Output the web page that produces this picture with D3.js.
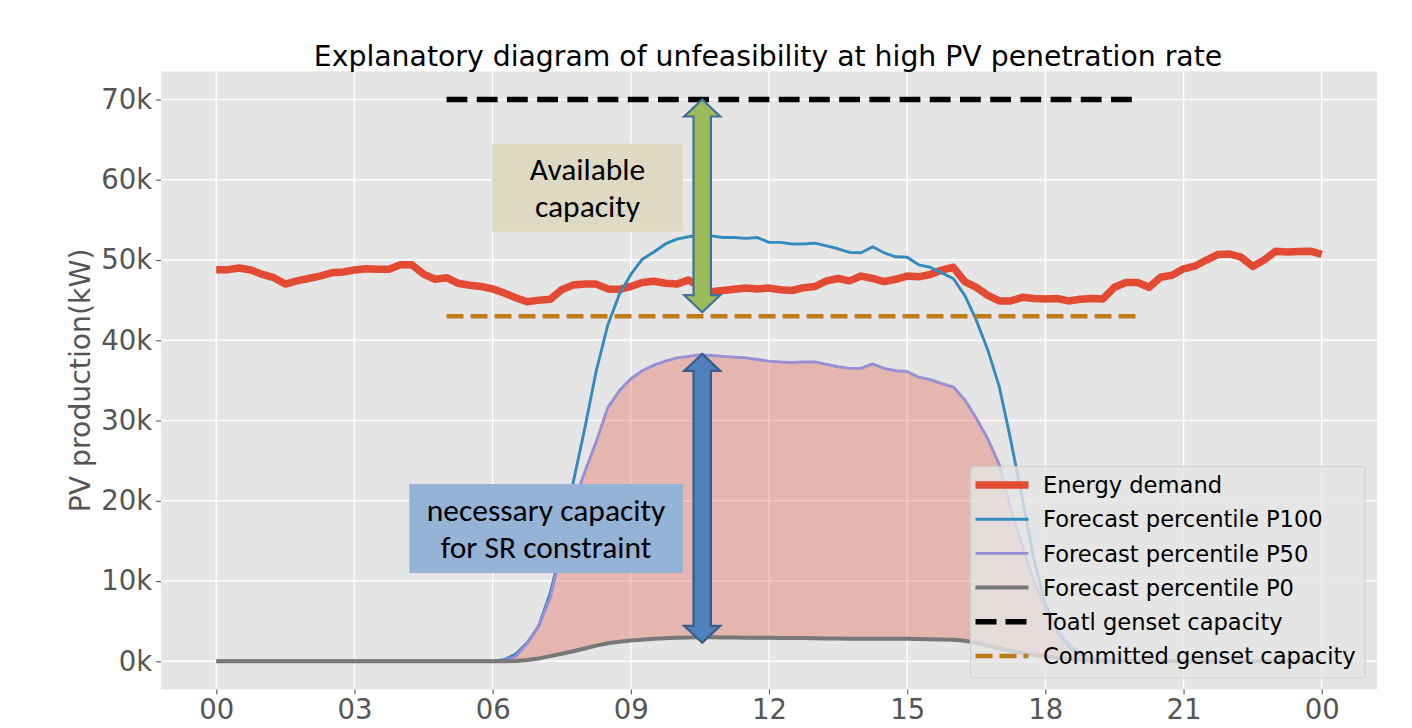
<!DOCTYPE html>
<html>
<head>
<meta charset="utf-8">
<script src="https://cdn.jsdelivr.net/npm/d3@7"></script>
<style>
  html, body { margin: 0; padding: 0; background: #ffffff; }
  svg { display: block; }
</style>
</head>
<body>
<svg id="chart" width="1412" height="728"></svg>
<script>
// ---------------- DATA ----------------
// time in hours, 15-minute steps from 00:00 to 24:00
const hours = d3.range(0, 97).map(i => i * 0.25);

// Energy demand (kW)
const demand = [
  48800, 48800, 49000, 48750, 48200, 47800, 47000, 47400, 47700, 48000, 48400, 48500,
  48750, 48900, 48850, 48850, 49400, 49400, 48250, 47600, 47800, 47100, 46850, 46700,
  46400, 45900, 45300, 44800, 45000, 45100, 46300, 46900, 47000, 47000, 46400, 46350,
  46700, 47200, 47350, 47100, 47000, 47500, 46700, 46050, 46200, 46350, 46500, 46400,
  46500, 46300, 46200, 46550, 46700, 47400, 47700, 47400, 48000, 47700, 47300, 47600,
  48000, 47900, 48200, 48750, 49100, 47300, 46600, 45600, 44900, 44900, 45350, 45200,
  45150, 45200, 44900, 45100, 45200, 45150, 46600, 47200, 47200, 46600, 47850, 48100,
  48900, 49250, 50000, 50700, 50750, 50350, 49200, 50000, 51100, 51000, 51050, 51100,
  50700
];

// Forecast percentile P100 (kW)
const p100 = [
  0, 0, 0, 0, 0, 0, 0, 0, 0, 0, 0, 0,
  0, 0, 0, 0, 0, 0, 0, 0, 0, 0, 0, 0,
  0, 200, 900, 2300, 4400, 8500, 14300, 22300, 29000, 36200, 41900, 45700,
  48200, 50100, 51000, 52000, 52600, 52900, 53100, 53000, 52800, 52800, 52700, 52800,
  52200, 52200, 52000, 52000, 52100, 51750, 51400, 50950, 50900, 51650, 50900, 50400,
  50350, 49400, 49100, 48400, 47700, 45600, 42500, 38800, 34200, 27500, 20300, 12700,
  7200, 3800, 1800, 800, 300, 0, 0, 0, 0, 0, 0, 0,
  0, 0, 0, 0, 0, 0, 0, 0, 0, 0, 0, 0,
  0
];

// Forecast percentile P50 (kW)
const p50 = [
  0, 0, 0, 0, 0, 0, 0, 0, 0, 0, 0, 0,
  0, 0, 0, 0, 0, 0, 0, 0, 0, 0, 0, 0,
  0, 50, 600, 2200, 4400, 7900, 13900, 19600, 23600, 27400, 31600, 33700,
  35200, 36200, 36900, 37400, 37800, 38000, 38200, 38100, 38000, 37900, 37800, 37600,
  37400, 37300, 37250, 37300, 37300, 37000, 36700, 36500, 36500, 37050, 36500, 36200,
  36100, 35400, 35100, 34600, 34200, 32600, 30300, 27700, 24500, 19000, 14300, 10000,
  6600, 4000, 2300, 1100, 400, 100, 0, 0, 0, 0, 0, 0,
  0, 0, 0, 0, 0, 0, 0, 0, 0, 0, 0, 0,
  0
];

// Forecast percentile P0 (kW)
const p0 = [
  0, 0, 0, 0, 0, 0, 0, 0, 0, 0, 0, 0,
  0, 0, 0, 0, 0, 0, 0, 0, 0, 0, 0, 0,
  0, 0, 50, 150, 350, 650, 950, 1250, 1600, 1950, 2250, 2450,
  2600, 2700, 2800, 2880, 2930, 2970, 3000, 3000, 2980, 2970, 2950, 2940,
  2930, 2910, 2900, 2890, 2870, 2850, 2830, 2820, 2820, 2820, 2820, 2810,
  2800, 2780, 2750, 2720, 2680, 2550, 2300, 1950, 1600, 1300, 1000, 800,
  600, 450, 300, 150, 50, 0, 0, 0, 0, 0, 0, 0,
  0, 0, 0, 0, 0, 0, 0, 0, 0, 0, 0, 0,
  0
];

// Genset capacities (kW) and their time spans (hours)
const totalCapacity = 70000;
const committedCapacity = 43000;
const capacitySpan = [5, 20];

// Axis ticks
const xTicks = [0, 3, 6, 9, 12, 15, 18, 21, 24];
const xTickLabels = ["00", "03", "06", "09", "12", "15", "18", "21", "00"];
const yTicks = [0, 10000, 20000, 30000, 40000, 50000, 60000, 70000];
const yTickLabels = ["0k", "10k", "20k", "30k", "40k", "50k", "60k", "70k"];

// Annotations (data coordinates)
const arrowHour = 10.55;
const availableArrow = [70000, 43500];
const necessaryArrow = [38300, 2300];
const availableBox = { x0: 5.99, x1: 10.13, y0: 53500, y1: 64500, lines: ["Available", "capacity"] };
const necessaryBox = { x0: 4.19, x1: 10.13, y0: 11000, y1: 22100, lines: ["necessary capacity", "for SR constraint"] };

const legendLabels = ["Energy demand", "Forecast percentile P100", "Forecast percentile P50",
  "Forecast percentile P0", "Toatl genset capacity", "Committed genset capacity"];

// ---------------- CHART ----------------
const svg = d3.select("#chart");
const L = 161, R = 1377, T = 71.4, B = 689.4;

const x = d3.scaleLinear().domain([-1.2, 25.2]).range([L, R]);
const y = d3.scaleLinear().domain([-3500, 73500]).range([B, T]);

const COL = {
  red: "#E24A33", blue: "#348ABD", purple: "#988ED5", grey: "#777777",
  black: "#000000", orange: "#BF7B16"
};

// background
svg.append("rect").attr("x", L).attr("y", T).attr("width", R - L).attr("height", B - T)
  .attr("fill", "#E5E5E5");

// grid
const grid = svg.append("g");
grid.selectAll("line.gx").data(xTicks).join("line")
  .attr("x1", d => x(d)).attr("x2", d => x(d)).attr("y1", T).attr("y2", B)
  .attr("stroke", "#ffffff").attr("stroke-width", 1.4);
grid.selectAll("line.gy").data(yTicks).join("line")
  .attr("y1", d => y(d)).attr("y2", d => y(d)).attr("x1", L).attr("x2", R)
  .attr("stroke", "#ffffff").attr("stroke-width", 1.4);

// clip
svg.append("clipPath").attr("id", "clip").append("rect")
  .attr("x", L).attr("y", T).attr("width", R - L).attr("height", B - T);
const plot = svg.append("g").attr("clip-path", "url(#clip)");

// fill between P0 and P50
const area = d3.area().x((d, i) => x(hours[i])).y0((d, i) => y(p0[i])).y1((d, i) => y(p50[i]));
plot.append("path").datum(p50).attr("d", area).attr("fill", COL.red).attr("fill-opacity", 0.3);

const lineOf = arr => d3.line().x((d, i) => x(hours[i])).y(d => y(d))(arr);

plot.append("path").attr("d", lineOf(demand)).attr("fill", "none")
  .attr("stroke", COL.red).attr("stroke-width", 7.5).attr("stroke-linejoin", "round");
plot.append("path").attr("d", lineOf(p100)).attr("fill", "none")
  .attr("stroke", COL.blue).attr("stroke-width", 2.9).attr("stroke-linejoin", "round");
plot.append("path").attr("d", lineOf(p50)).attr("fill", "none")
  .attr("stroke", COL.purple).attr("stroke-width", 2.9).attr("stroke-linejoin", "round");
plot.append("path").attr("d", lineOf(p0)).attr("fill", "none")
  .attr("stroke", COL.grey).attr("stroke-width", 4).attr("stroke-linejoin", "round");

// genset capacity lines
plot.append("line").attr("x1", x(capacitySpan[0])).attr("x2", x(capacitySpan[1]))
  .attr("y1", y(totalCapacity)).attr("y2", y(totalCapacity))
  .attr("stroke", COL.black).attr("stroke-width", 5.6).attr("stroke-dasharray", "20.8 9.4");
plot.append("line").attr("x1", x(capacitySpan[0])).attr("x2", x(capacitySpan[1]))
  .attr("y1", y(committedCapacity)).attr("y2", y(committedCapacity))
  .attr("stroke", COL.orange).attr("stroke-width", 4.5).attr("stroke-dasharray", "17 7");

// axes
const tickColor = "#555555";
const xAxis = d3.axisBottom(x).tickValues(xTicks).tickFormat((d, i) => xTickLabels[i])
  .tickSize(4.9).tickPadding(5);
const gx = svg.append("g").attr("transform", `translate(0,${B})`).call(xAxis);
gx.select(".domain").remove();
gx.selectAll("line").attr("stroke", tickColor).attr("stroke-width", 1.1);
gx.selectAll("text").attr("fill", tickColor).attr("font-family", "DejaVu Sans")
  .attr("font-size", 27.5);

const yAxis = d3.axisLeft(y).tickValues(yTicks).tickFormat((d, i) => yTickLabels[i])
  .tickSize(4.9).tickPadding(4);
const gy = svg.append("g").attr("transform", `translate(${L},0)`).call(yAxis);
gy.select(".domain").remove();
gy.selectAll("line").attr("stroke", tickColor).attr("stroke-width", 1.1);
gy.selectAll("text").attr("fill", tickColor).attr("font-family", "DejaVu Sans")
  .attr("font-size", 27.5);

// y label
svg.append("text").attr("transform", `translate(90,${(T + B) / 2}) rotate(-90)`)
  .attr("text-anchor", "middle").attr("font-family", "DejaVu Sans").attr("font-size", 28.3)
  .attr("fill", tickColor).text("PV production(kW)");

// title
svg.append("text").attr("x", 768).attr("y", 65.5).attr("text-anchor", "middle")
  .attr("font-family", "DejaVu Sans").attr("font-size", 28.3).attr("fill", "#000")
  .text("Explanatory diagram of unfeasibility at high PV penetration rate");

// legend
const lg = svg.append("g");
lg.append("rect").attr("x", 970.5).attr("y", 466.5).attr("width", 394.5).attr("height", 211.5)
  .attr("rx", 4).attr("fill", "#E5E5E5").attr("fill-opacity", 0.8)
  .attr("stroke", "#CCCCCC").attr("stroke-opacity", 0.8).attr("stroke-width", 1.2);
const legendStyles = [
  { c: COL.red, w: 7.5, dash: null },
  { c: COL.blue, w: 2.9, dash: null },
  { c: COL.purple, w: 2.9, dash: null },
  { c: COL.grey, w: 4, dash: null },
  { c: COL.black, w: 5.6, dash: "21 9" },
  { c: COL.orange, w: 4.5, dash: "17 7" }
];
legendLabels.forEach((lab, i) => {
  const yy = 485 + i * 34.2;
  const st = legendStyles[i];
  const ln = lg.append("line").attr("x1", 975.5).attr("x2", 1028.5).attr("y1", yy).attr("y2", yy)
    .attr("stroke", st.c).attr("stroke-width", st.w);
  if (st.dash) ln.attr("stroke-dasharray", st.dash);
  lg.append("text").attr("x", 1043).attr("y", yy).attr("dy", "0.36em")
    .attr("font-family", "DejaVu Sans").attr("font-size", 22.6).attr("fill", "#000").text(lab);
});

// annotation boxes
const annFont = "Carlito, Calibri, Lato, sans-serif";
function textBox(b, fill) {
  const bx = x(b.x0), bw = x(b.x1) - x(b.x0), by = y(b.y1), bh = y(b.y0) - y(b.y1);
  svg.append("rect").attr("x", bx).attr("y", by).attr("width", bw).attr("height", bh).attr("fill", fill);
  const cx = bx + bw / 2, cy = by + bh / 2;
  b.lines.forEach((t, i) => {
    svg.append("text").attr("x", cx).attr("y", cy + (i - 0.5) * 37).attr("dy", "0.35em")
      .attr("text-anchor", "middle").attr("font-family", annFont).attr("font-size", 31.5)
      .attr("fill", "#000").text(t);
  });
}
textBox(availableBox, "#DDD9C3");
textBox(necessaryBox, "#95B3D7");

// double arrows
function doubleArrow(hour, v0, v1, fill, stroke) {
  const cx = x(hour), yt = y(v0), yb = y(v1);
  const sw = 8.7, hw = 18, hl = 17;
  const p = d3.path();
  p.moveTo(cx, yt);
  p.lineTo(cx + hw, yt + hl); p.lineTo(cx + sw, yt + hl);
  p.lineTo(cx + sw, yb - hl); p.lineTo(cx + hw, yb - hl);
  p.lineTo(cx, yb);
  p.lineTo(cx - hw, yb - hl); p.lineTo(cx - sw, yb - hl);
  p.lineTo(cx - sw, yt + hl); p.lineTo(cx - hw, yt + hl);
  p.closePath();
  svg.append("path").attr("d", p.toString()).attr("fill", fill)
    .attr("stroke", stroke).attr("stroke-width", 2.2).attr("stroke-linejoin", "miter");
}
doubleArrow(arrowHour, availableArrow[0], availableArrow[1], "#9BBB59", "#41719C");
doubleArrow(arrowHour, necessaryArrow[0], necessaryArrow[1], "#4F81BD", "#385D8A");
</script>
</body>
</html>
